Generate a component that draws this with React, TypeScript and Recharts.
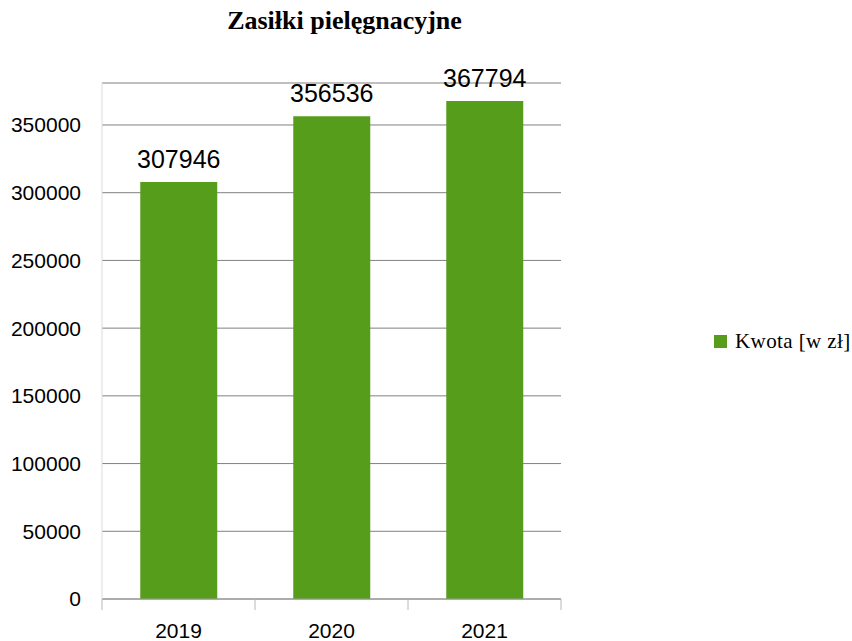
import React from "react";
import { BarChart, Bar, XAxis, YAxis, CartesianGrid, LabelList } from "recharts";

const title = "Zasiłki pielęgnacyjne";
const seriesName = "Kwota [w zł]";
const years = ["2019", "2020", "2021"];
const amounts = [307946, 356536, 367794];
const yTicks = [0, 50000, 100000, 150000, 200000, 250000, 300000, 350000];
// category boundaries on an index scale running from the first to the last category index
const edgeTicks = [0, 2 / 3, 4 / 3, 2];

const GREEN = "#579D1C";

const data = years.map((y, i) => ({ year: y, value: amounts[i] }));

const NoLabel = () => <g />;

export default function App() {
  return (
    <div style={{ position: "absolute", left: 0, top: 0, width: 852, height: 641, background: "#fff" }}>
      <div
        style={{
          position: "absolute",
          left: 0,
          width: 689,
          top: 8,
          textAlign: "center",
          fontFamily: "'Liberation Serif', 'Times New Roman', serif",
          fontWeight: "bold",
          fontSize: 26,
          lineHeight: "26px",
          color: "#000",
        }}
      >
        {title}
      </div>
      <div
        style={{
          position: "absolute",
          left: 714,
          top: 329,
          display: "flex",
          alignItems: "center",
          fontFamily: "'Liberation Serif', 'Times New Roman', serif",
          fontSize: 21,
          lineHeight: "24px",
          letterSpacing: "0.4px",
          color: "#000",
          whiteSpace: "nowrap",
        }}
      >
        <span style={{ display: "inline-block", width: 13, height: 13, background: GREEN, marginRight: 8 }} />
        <span>{seriesName}</span>
      </div>
      <BarChart
        width={852}
        height={641}
        data={data}
        margin={{ top: 83, right: 291, left: 0, bottom: 0 }}
        barCategoryGap="25%"
        style={{ position: "absolute", left: 0, top: 0 }}
      >
        <CartesianGrid horizontal vertical={false} stroke="#808080" yAxisId="left" xAxisId="b" />
        <XAxis
          xAxisId="a"
          type="number"
          domain={[0, 2]}
          allowDataOverflow
          ticks={edgeTicks}
          interval={0}
          tick={NoLabel}
          height={1}
          axisLine={{ stroke: "#9a9a9a" }}
          tickLine={{ stroke: "#b8b8b8" }}
          tickSize={11}
        />
        <XAxis
          xAxisId="b"
          dataKey="year"
          height={41}
          axisLine={false}
          tickLine={false}
          tickSize={0}
          tickMargin={23}
          tick={{ fontSize: 21, fill: "#000", fontFamily: "'Liberation Sans', Arial, sans-serif" }}
        />
        <XAxis
          xAxisId="top"
          orientation="top"
          dataKey="year"
          height={0}
          tick={false}
          tickLine={false}
          axisLine={{ stroke: "#c4c4c4" }}
        />
        <YAxis
          yAxisId="left"
          width={102}
          domain={[0, 381000]}
          ticks={yTicks}
          interval={0}
          axisLine={{ stroke: "#dcdcdc" }}
          tickLine={false}
          tickSize={0}
          tickMargin={21}
          tick={{ fontSize: 21, fill: "#000", fontFamily: "'Liberation Sans', Arial, sans-serif" }}
        />
        <YAxis
          yAxisId="right"
          orientation="right"
          width={0}
          domain={[0, 381000]}
          tick={false}
          tickLine={false}
          axisLine={{ stroke: "#c4c4c4" }}
        />
        <Bar dataKey="value" name={seriesName} fill={GREEN} xAxisId="b" yAxisId="left" isAnimationActive={false}>
          <LabelList
            dataKey="value"
            position="top"
            offset={14}
            style={{ fontSize: 25, fill: "#000", fontFamily: "'Liberation Sans', Arial, sans-serif" }}
          />
        </Bar>
      </BarChart>
    </div>
  );
}
